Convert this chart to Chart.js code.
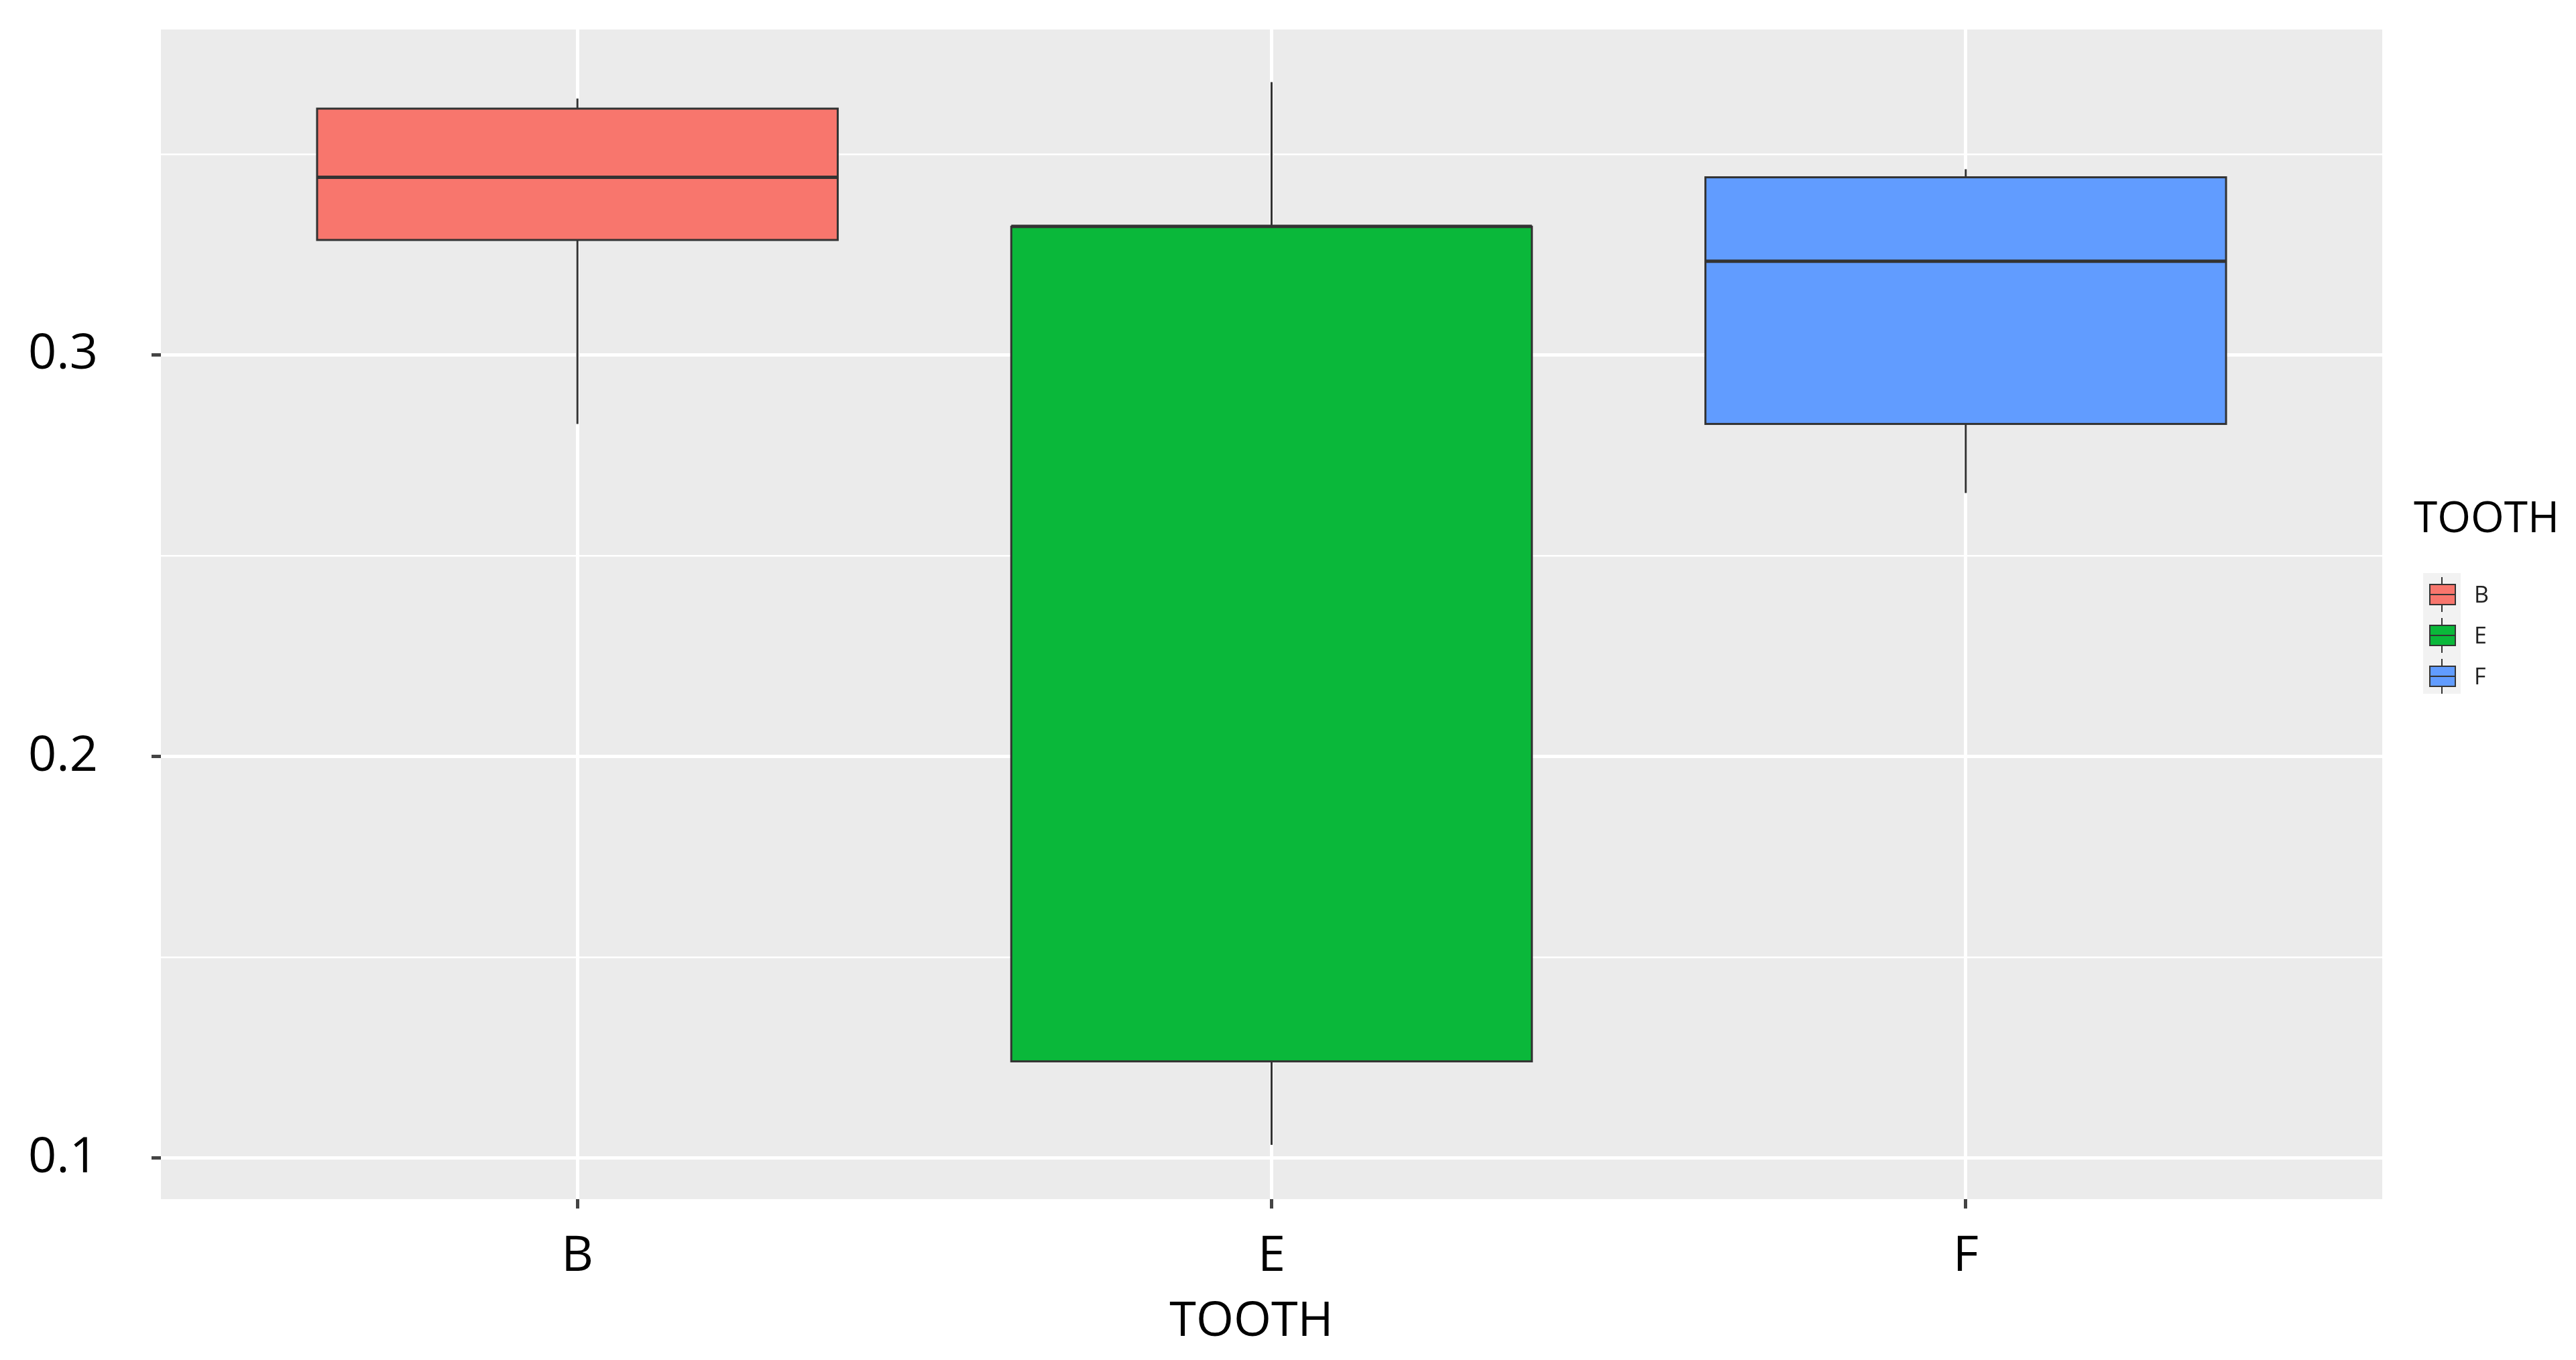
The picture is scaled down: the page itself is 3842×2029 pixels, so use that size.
<!DOCTYPE html>
<html><head><meta charset="utf-8">
<script src="https://cdn.jsdelivr.net/npm/chart.js@4"></script>
<style>html,body{margin:0;padding:0;background:#fff}#w{width:3842px;height:2029px}</style>
</head><body><div id="w"><canvas id="c"></canvas></div>
<script>
const categories = ['B','E','F'];
const positions = [1,2,3];
const whiskerLow = [0.2828,0.1033,0.2656];
const q1 = [0.3286,0.1241,0.2828];
const median = [0.3442,0.332,0.3233];
const q3 = [0.3613,0.3319,0.3442];
const whiskerHigh = [0.3638,0.3679,0.3462];
const colors = ['#F8766D','#0AB83A','#619CFF'];
const yTicks = [0.1,0.15,0.2,0.25,0.3,0.35];
const yLabels = {0.1:'0.1',0.2:'0.2',0.3:'0.3'};
const boxWidth = 0.75;
const FONT = 'Open Sans, Lato, sans-serif';

const boxPlugin = {
  id:'box',
  beforeDraw(chart){
    const {ctx, chartArea:a} = chart;
    ctx.save(); ctx.fillStyle='#EBEBEB';
    ctx.fillRect(a.left,a.top,a.right-a.left,a.bottom-a.top); ctx.restore();
  },
  afterDatasetsDraw(chart){
    const ctx=chart.ctx, x=chart.scales.x, y=chart.scales.y;
    ctx.save();
    positions.forEach((p,i)=>{
      const cx=x.getPixelForValue(p), l=x.getPixelForValue(p-boxWidth/2), r=x.getPixelForValue(p+boxWidth/2);
      ctx.strokeStyle='#333'; ctx.lineWidth=3;
      ctx.beginPath();
      ctx.moveTo(cx,y.getPixelForValue(whiskerHigh[i])); ctx.lineTo(cx,y.getPixelForValue(q3[i]));
      ctx.moveTo(cx,y.getPixelForValue(q1[i])); ctx.lineTo(cx,y.getPixelForValue(whiskerLow[i]));
      ctx.stroke();
      const t=y.getPixelForValue(q3[i]), b=y.getPixelForValue(q1[i]);
      ctx.fillStyle=colors[i]; ctx.fillRect(l,t,r-l,b-t);
      ctx.strokeRect(l,t,r-l,b-t);
      ctx.lineWidth=5; ctx.beginPath();
      const m=y.getPixelForValue(median[i]); ctx.moveTo(l,m); ctx.lineTo(r,m); ctx.stroke();
    });
    ctx.fillStyle='#000'; ctx.font='72px '+FONT; ctx.textAlign='center'; ctx.textBaseline='middle';
    ctx.fillText('TOOTH', x.getPixelForValue(2)-30, 1972);
    ctx.textAlign='left'; ctx.font='64px '+FONT;
    ctx.fillText('TOOTH', 3600, 776);
    ctx.fillStyle='#F2F2F2'; ctx.fillRect(3614,855,56,180);
    categories.forEach((c,i)=>{
      const cy=887+i*61;
      ctx.strokeStyle='#333'; ctx.lineWidth=2;
      ctx.beginPath(); ctx.moveTo(3642,cy-26); ctx.lineTo(3642,cy+26); ctx.stroke();
      ctx.fillStyle=colors[i]; ctx.fillRect(3624,cy-15,38,30); ctx.strokeRect(3624,cy-15,38,30);
      ctx.beginPath(); ctx.moveTo(3624,cy); ctx.lineTo(3662,cy); ctx.stroke();
      ctx.fillStyle='#222'; ctx.font='34px '+FONT; ctx.fillText(c,3690,cy+2);
    });
    ctx.restore();
  }
};

new Chart(document.getElementById('c'),{
  type:'scatter',
  data:{datasets:[{data:positions.map((p,i)=>({x:p,y:median[i]})),pointRadius:0}]},
  options:{
    responsive:true, maintainAspectRatio:false, animation:false, devicePixelRatio:1,
    layout:{padding:{top:44,right:289,left:0,bottom:0}},
    plugins:{legend:{display:false},tooltip:{enabled:false}},
    scales:{
      x:{type:'linear',min:0.4,max:3.6,
        afterBuildTicks:s=>{s.ticks=positions.map(v=>({value:v}));},
        afterFit:s=>{s.height=240;s.paddingLeft=0;s.paddingRight=0;},
        border:{display:false},
        grid:{color:'#FFFFFF',lineWidth:5,tickLength:14,tickColor:'#444'},
        ticks:{padding:28,color:'#000',font:{size:74,family:FONT},callback:(v)=>categories[positions.indexOf(v)]}},
      y:{type:'linear',min:0.0898,max:0.381,
        afterBuildTicks:s=>{s.ticks=yTicks.map(v=>({value:v}));},
        afterFit:s=>{s.width=240;s.paddingTop=0;s.paddingBottom=0;},
        border:{display:false},
        grid:{color:'#FFFFFF',lineWidth:c=>yLabels[c.tick&&c.tick.value]?5:2.5,tickLength:14,
          tickColor:c=>yLabels[c.tick&&c.tick.value]?'#444':'rgba(0,0,0,0)'},
        ticks:{padding:80,color:'#000',font:{size:74,family:FONT},callback:v=>yLabels[v]||''}}
    }
  },
  plugins:[boxPlugin]
});
</script></body></html>
